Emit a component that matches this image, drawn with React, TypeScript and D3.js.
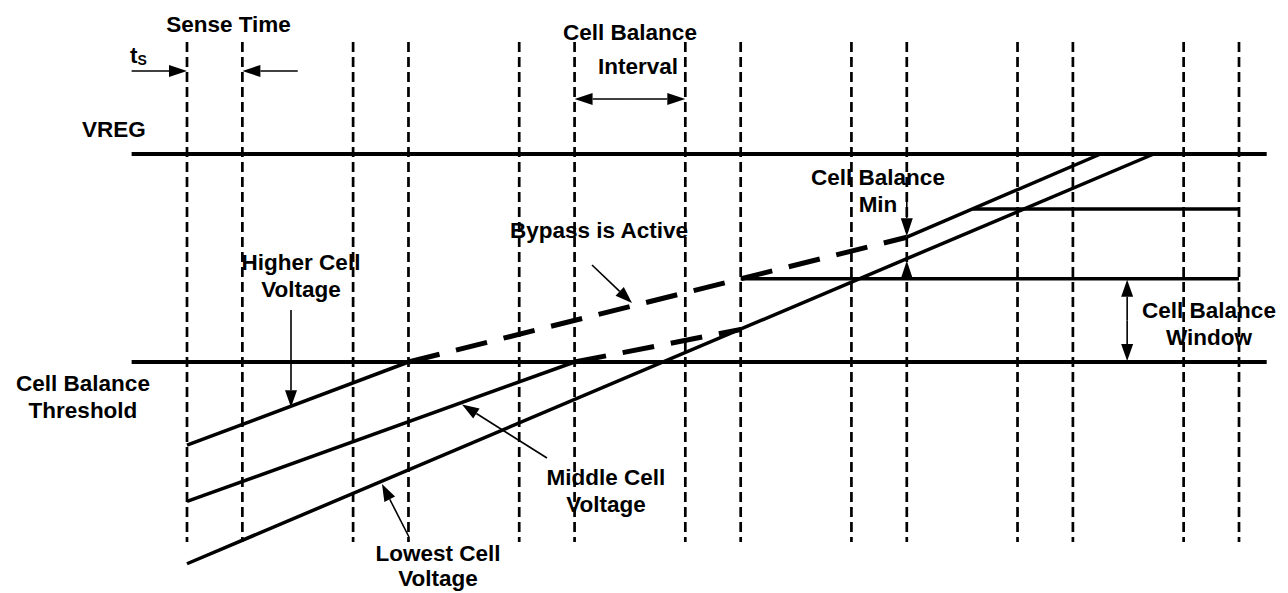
import * as d3 from "d3";

// time axis: one cell-balance interval = 1 unit, sense time = 1/3 unit
const periods = [0, 1, 2, 3, 4, 5, 6];
const senseFraction = 1 / 3;
const senseLines = periods.flatMap((k) => [k, k + senseFraction]);

// voltage levels (threshold = 0, VREG = 100)
const VREG = 100;
const MIN_TOP = 73.6;
const WINDOW_TOP = 40;
const THRESHOLD = 0;
const railSpan = [-1 / 3, 6.5];
const minSpanEnd = 19 / 3;

// cell voltage traces [time, voltage]
const higherSolid: [number, number][] = [[0, -40], [4 / 3, 0]];
const higherBypass: [number, number][] = [[4 / 3, 0], [13 / 3, 60]];
const higherRise: [number, number][] = [[13 / 3, 60], [5.5, 100]];
const middleSolid: [number, number][] = [[0, -67], [7 / 3, 0]];
const middleBypass: [number, number][] = [[7 / 3, 0], [10 / 3, 15.6]];
const lowest: [number, number][] = [[0, -97], [5.82, 100]];

const W = 1288;
const H = 593;
const x = d3.scaleLinear().domain([0, 19 / 3]).range([187, 1239]);
const y = d3.scaleLinear().domain([0, 100]).range([362, 154]);
const line = d3
  .line<[number, number]>()
  .x((d) => x(d[0]))
  .y((d) => y(d[1]));

const at = (pts: [number, number][], t: number) => {
  const [a, b] = pts;
  return a[1] + ((b[1] - a[1]) * (t - a[0])) / (b[0] - a[0]);
};
const timeAt = (pts: [number, number][], v: number) => {
  const [a, b] = pts;
  return a[0] + ((b[0] - a[0]) * (v - a[1])) / (b[1] - a[1]);
};

const font = "'Liberation Sans', Arial, sans-serif";

function Arrow({ x1, y1, x2, y2, len = 17, hw = 6 }: { x1: number; y1: number; x2: number; y2: number; len?: number; hw?: number }) {
  const dx = x2 - x1;
  const dy = y2 - y1;
  const L = Math.hypot(dx, dy);
  const ux = dx / L;
  const uy = dy / L;
  const bx = x2 - ux * len;
  const by = y2 - uy * len;
  const pts = [
    [x2, y2],
    [bx - uy * hw, by + ux * hw],
    [bx + uy * hw, by - ux * hw],
  ];
  return (
    <g>
      <line x1={x1} y1={y1} x2={bx} y2={by} stroke="#000" strokeWidth={1.6} />
      <polygon points={pts.map((p) => p.join(",")).join(" ")} fill="#000" />
    </g>
  );
}

function Label({ cx, by, lines, size = 22.5, gap = 27 }: { cx: number; by: number; lines: string[]; size?: number; gap?: number }) {
  return (
    <text x={cx} y={by} textAnchor="middle" fontFamily={font} fontWeight="bold" fontSize={size} fill="#000">
      {lines.map((l, i) => (
        <tspan key={i} x={cx} dy={i === 0 ? 0 : gap}>
          {l}
        </tspan>
      ))}
    </text>
  );
}

export default function App() {
  const minStart = timeAt(higherRise, MIN_TOP);
  const tMin = 13 / 3;
  const tWin = 5.66;
  return (
    <svg width={W} height={H} style={{ position: "absolute", left: 0, top: 0, background: "#fff" }}>
      {/* sense time dashed markers */}
      {senseLines.map((t, i) => (
        <line key={i} x1={x(t)} x2={x(t)} y1={42} y2={542} stroke="#000" strokeWidth={2.7} strokeDasharray="10,5" />
      ))}

      {/* rails */}
      {[VREG, THRESHOLD].map((v, i) => (
        <line key={i} x1={x(railSpan[0])} x2={x(railSpan[1])} y1={y(v)} y2={y(v)} stroke="#000" strokeWidth={4} />
      ))}
      <line x1={x(minStart)} x2={x(minSpanEnd)} y1={y(MIN_TOP)} y2={y(MIN_TOP)} stroke="#000" strokeWidth={3.5} />
      <line x1={x(10 / 3)} x2={x(minSpanEnd)} y1={y(WINDOW_TOP)} y2={y(WINDOW_TOP)} stroke="#000" strokeWidth={3.5} />

      {/* cell traces */}
      {[higherSolid, higherRise, middleSolid, lowest].map((p, i) => (
        <path key={i} d={line(p) ?? ""} fill="none" stroke="#000" strokeWidth={3.5} />
      ))}
      {[higherBypass, middleBypass].map((p, i) => (
        <path key={i} d={line(p) ?? ""} fill="none" stroke="#000" strokeWidth={5} strokeDasharray="32,17" />
      ))}

      {/* timing arrows */}
      <Arrow x1={x(-1 / 3)} y1={71} x2={x(0)} y2={71} len={18} />
      <Arrow x1={x(2 / 3)} y1={71} x2={x(1 / 3)} y2={71} len={18} />
      <Arrow x1={(x(7 / 3) + x(3)) / 2} y1={99} x2={x(7 / 3)} y2={99} len={18} />
      <Arrow x1={(x(7 / 3) + x(3)) / 2} y1={99} x2={x(3)} y2={99} len={18} />

      {/* window / min arrows */}
      <Arrow x1={x(tWin)} y1={(y(WINDOW_TOP) + y(THRESHOLD)) / 2} x2={x(tWin)} y2={y(WINDOW_TOP) + 1} len={17} />
      <Arrow x1={x(tWin)} y1={(y(WINDOW_TOP) + y(THRESHOLD)) / 2} x2={x(tWin)} y2={y(THRESHOLD) - 1} len={17} />
      <Arrow x1={x(tMin)} y1={198} x2={x(tMin)} y2={y(at(higherBypass, tMin)) - 1} len={18} />
      <Arrow x1={x(tMin)} y1={y(WINDOW_TOP)} x2={x(tMin)} y2={y(at(lowest, tMin)) + 2} len={18} />

      {/* pointer arrows */}
      <Arrow x1={291} y1={310} x2={291} y2={y(at(higherSolid, x.invert(291))) + 1} />
      <Arrow x1={592} y1={265} x2={632} y2={y(at(higherBypass, x.invert(632))) - 3} />
      <Arrow x1={547} y1={458} x2={462} y2={y(at(middleSolid, x.invert(462))) + 2} />
      <Arrow x1={409} y1={537} x2={382} y2={y(at(lowest, x.invert(382))) + 3} />

      {/* labels */}
      <Label cx={228.5} by={32} lines={["Sense Time"]} />
      <text x={130} y={63} fontFamily={font} fontWeight="bold" fontSize={22.5}>
        t<tspan fontSize={14} dy={2}>S</tspan>
      </text>
      <Label cx={630} by={40} lines={["Cell Balance"]} />
      <Label cx={638} by={74} lines={["Interval"]} />
      <Label cx={114} by={137} lines={["VREG"]} />
      <Label cx={878} by={185} lines={["Cell Balance", "Min"]} />
      <Label cx={599} by={238} lines={["Bypass is Active"]} />
      <Label cx={301} by={270} lines={["Higher Cell", "Voltage"]} />
      <Label cx={1209} by={318} lines={["Cell Balance", "Window"]} />
      <Label cx={83} by={391} lines={["Cell Balance", "Threshold"]} />
      <Label cx={606} by={485} lines={["Middle Cell", "Voltage"]} />
      <Label cx={438} by={561} lines={["Lowest Cell", "Voltage"]} gap={25} />
    </svg>
  );
}
